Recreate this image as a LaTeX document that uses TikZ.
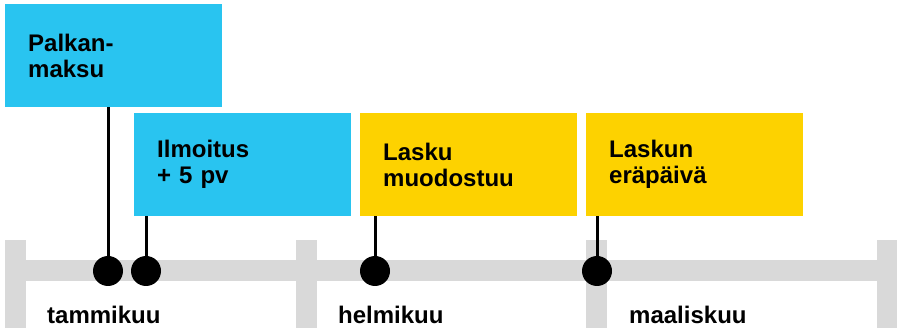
\documentclass[tikz,border=0pt]{standalone}
\usepackage{fontspec}
\setmainfont{Liberation Sans}
\usepackage{tikz}
\usetikzlibrary{positioning,calc}
\definecolor{kelta}{HTML}{FDD200}
\definecolor{sini}{HTML}{29C4F0}
\definecolor{harmaa}{HTML}{D9D9D9}
\tikzstyle{event}=[anchor=north west,minimum width=217pt,minimum height=103pt,text width=171pt,inner xsep=23pt,align=left,font=\fontsize{24}{26}\selectfont\bfseries]
\tikzstyle{dot}=[circle,fill=black,minimum size=30pt,inner sep=0pt]
\tikzstyle{stem}=[line width=3pt]
\tikzstyle{month}=[anchor=base west,inner sep=0pt,font=\fontsize{24}{26}\selectfont\bfseries]

\begin{document}
\begin{tikzpicture}[x=1pt,y=-1pt]
      \useasboundingbox (0,0) rectangle (897,328);
      % aikajana
      \fill[harmaa] (5,260) rectangle (897,281);
      \foreach \x in {5,296,586,877}
        \fill[harmaa] (\x,240) rectangle ++(21,90);
      \node[month] at (47,324) (tam) {tammikuu};
      \node[month] at (338,324) (hel) {helmikuu};
      \node[month] at (629,324) (maa) {maaliskuu};
      % tapahtumat
      \node[event,fill=sini] at (5,4) (palkka) {Palkan-\\maksu};
      \node[event,fill=sini] at (134,113) (ilmo) {Ilmoitus\\+ 5 pv};
      \node[event,fill=kelta] at (360,113) (lasku) {Lasku\\muodostuu};
      \node[event,fill=kelta] at (586,113) (era) {Laskun\\eräpäivä};
      \node[dot] at (108,271) (d1) {};
      \node[dot] at (146,271) (d2) {};
      \node[dot] at (375,271) (d3) {};
      \node[dot] at (597,271) (d4) {};
      \draw[stem] (d1) -- (d1 |- palkka.south);
      \draw[stem] (d2) -- (d2 |- ilmo.south);
      \draw[stem] (d3) -- (d3 |- lasku.south);
      \draw[stem] (d4) -- (d4 |- era.south);
\end{tikzpicture}
\end{document}
